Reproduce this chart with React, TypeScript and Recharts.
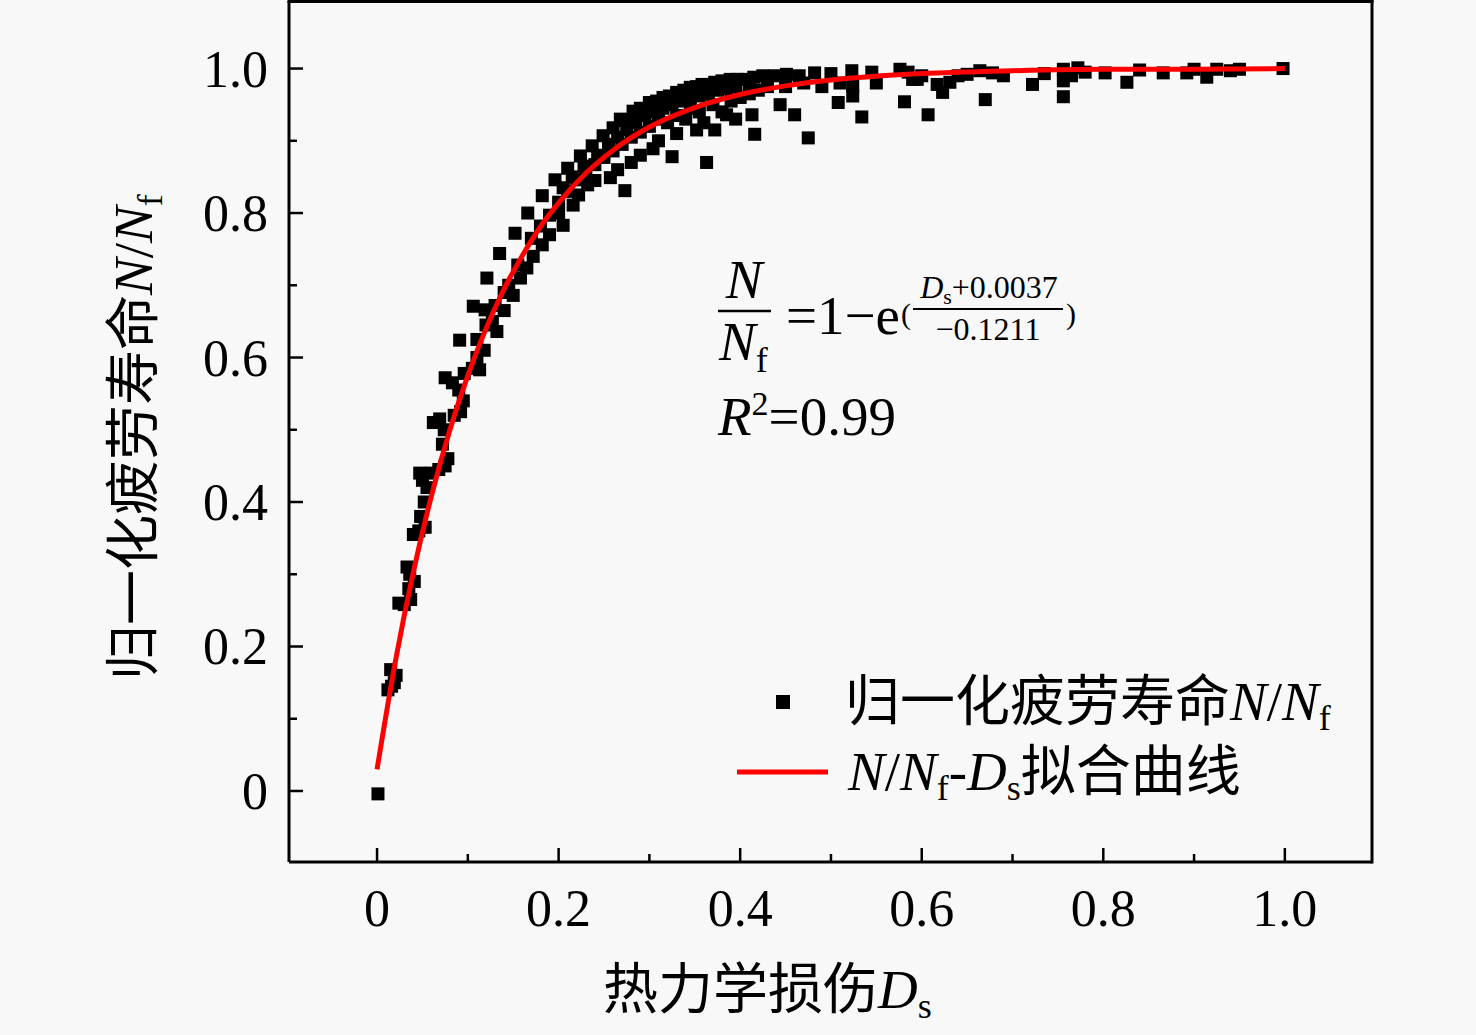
import { ComposedChart, Scatter, Line, XAxis, YAxis, Legend } from "recharts"

// 热力学损伤 Ds 与归一化疲劳寿命 N/Nf 的散点，按区段分开
const riseDs = [0.001, 0.012, 0.016, 0.019, 0.021, 0.015, 0.024, 0.030, 0.037, 0.035, 0.036, 0.041, 0.033, 0.040, 0.046, 0.053, 0.048, 0.052, 0.055, 0.050, 0.047, 0.060, 0.068, 0.075, 0.078, 0.072, 0.074, 0.062, 0.069, 0.085, 0.092, 0.095, 0.090, 0.083, 0.075, 0.096]
const riseN = [-0.004, 0.14, 0.145, 0.15, 0.16, 0.168, 0.26, 0.258, 0.265, 0.28, 0.30, 0.29, 0.31, 0.355, 0.36, 0.365, 0.38, 0.40, 0.42, 0.43, 0.44, 0.44, 0.445, 0.45, 0.46, 0.48, 0.50, 0.51, 0.515, 0.52, 0.525, 0.54, 0.555, 0.565, 0.572, 0.578]

const kneeDs = [0.091, 0.106, 0.121, 0.135, 0.152, 0.166, 0.182, 0.196, 0.210, 0.224, 0.237, 0.249, 0.260, 0.273,
    0.105, 0.113, 0.110, 0.118, 0.132, 0.127, 0.140, 0.150, 0.145, 0.158, 0.165, 0.172, 0.182, 0.190, 0.205, 0.200, 0.216, 0.222, 0.232, 0.240, 0.257, 0.265, 0.273, 0.280, 0.290,
    0.110, 0.120, 0.130, 0.140, 0.155, 0.170, 0.180, 0.190, 0.200, 0.210, 0.220, 0.230, 0.240, 0.250, 0.260, 0.270, 0.280, 0.290, 0.119,
    0.205, 0.215, 0.228, 0.243, 0.255, 0.265, 0.275]
const kneeN = [0.624, 0.671, 0.710, 0.744, 0.772, 0.800, 0.824, 0.846, 0.862, 0.879, 0.893, 0.907, 0.918, 0.928,
    0.585, 0.583, 0.600, 0.610, 0.636, 0.650, 0.665, 0.686, 0.700, 0.710, 0.724, 0.740, 0.756, 0.770, 0.783, 0.800, 0.811, 0.825, 0.839, 0.845, 0.849, 0.860, 0.831, 0.870, 0.880,
    0.625, 0.645, 0.672, 0.690, 0.728, 0.765, 0.782, 0.797, 0.815, 0.830, 0.846, 0.856, 0.867, 0.877, 0.886, 0.895, 0.905, 0.912, 0.666,
    0.835, 0.850, 0.865, 0.880, 0.895, 0.905, 0.915]

const plateauDs = [0.268, 0.282, 0.290, 0.300, 0.308, 0.315, 0.322, 0.330, 0.338, 0.345, 0.352, 0.358, 0.365, 0.372, 0.380, 0.389, 0.397, 0.405, 0.415, 0.425, 0.438, 0.451, 0.465, 0.482, 0.500, 0.523, 0.545, 0.576, 0.585,
    0.300, 0.310, 0.320, 0.330, 0.340, 0.345, 0.355, 0.360, 0.370, 0.380, 0.385, 0.390, 0.400, 0.410, 0.413, 0.420, 0.430, 0.444, 0.450, 0.460, 0.470, 0.475, 0.490, 0.508, 0.510, 0.524, 0.524, 0.534, 0.550, 0.581, 0.590,
    0.304, 0.325, 0.352, 0.363, 0.372, 0.416, 0.395, 0.330, 0.310,
    0.285, 0.295, 0.305, 0.315, 0.325, 0.335, 0.345, 0.355, 0.365, 0.375, 0.385, 0.395, 0.410, 0.430]
const plateauN = [0.930, 0.941, 0.945, 0.953, 0.955, 0.960, 0.962, 0.967, 0.970, 0.974, 0.975, 0.978, 0.978, 0.981, 0.983, 0.985, 0.985, 0.985, 0.988, 0.990, 0.990, 0.992, 0.990, 0.994, 0.993, 0.997, 0.995, 0.999, 0.995,
    0.920, 0.930, 0.925, 0.935, 0.930, 0.945, 0.940, 0.925, 0.950, 0.940, 0.936, 0.955, 0.960, 0.965, 0.936, 0.970, 0.975, 0.950, 0.975, 0.936, 0.980, 0.904, 0.975, 0.953, 0.980, 0.962, 0.976, 0.933, 0.980, 0.954, 0.985,
    0.889, 0.878, 0.915, 0.870, 0.915, 0.909, 0.930, 0.910, 0.900,
    0.925, 0.935, 0.940, 0.945, 0.950, 0.955, 0.960, 0.962, 0.965, 0.970, 0.972, 0.975, 0.978, 0.982]

const tailDs = [0.595, 0.600, 0.607, 0.617, 0.623, 0.631, 0.640, 0.650, 0.664, 0.670, 0.678, 0.690, 0.722, 0.735, 0.756, 0.756, 0.756, 0.765, 0.772, 0.780, 0.802, 0.826, 0.840, 0.866, 0.892, 0.900, 0.914, 0.925, 0.940, 0.950, 0.998]
const tailN = [0.985, 0.990, 0.936, 0.978, 0.967, 0.981, 0.990, 0.992, 0.997, 0.957, 0.994, 0.990, 0.978, 0.993, 0.999, 0.983, 0.961, 0.990, 1.001, 0.995, 0.994, 0.981, 0.998, 0.994, 0.994, 0.999, 0.988, 0.999, 0.997, 0.999, 1.000]

// 拟合曲线读数
const fitDs = [0, 0.02, 0.04, 0.06, 0.08, 0.1, 0.12, 0.14, 0.16, 0.18, 0.2, 0.23, 0.26, 0.3, 0.35, 0.4, 0.45, 0.5, 0.6, 0.7, 0.8, 0.9, 1.0]
const fitN = [0.030, 0.178, 0.303, 0.409, 0.499, 0.575, 0.640, 0.695, 0.741, 0.781, 0.814, 0.855, 0.887, 0.919, 0.946, 0.964, 0.976, 0.984, 0.993, 0.997, 0.999, 0.999, 1.0]

const xTicks = [0, 0.1, 0.2, 0.3, 0.4, 0.5, 0.6, 0.7, 0.8, 0.9, 1.0]
const yTicks = [0, 0.1, 0.2, 0.3, 0.4, 0.5, 0.6, 0.7, 0.8, 0.9, 1.0]
const xDomain = [-0.097, 1.096]
const yDomain = [-0.0983, 1.0935]

const zip = (xs: number[], ys: number[]) => xs.map((x, i) => ({ x, y: ys[i] }))
const points = [...zip(riseDs, riseN), ...zip(kneeDs, kneeN), ...zip(plateauDs, plateauN), ...zip(tailDs, tailN)]
const fitLine = zip(fitDs, fitN)

const font = '"Liberation Serif", "Times New Roman", "Noto Sans CJK SC", serif'
const isMajor = (v: number) => Math.round(v * 10) % 2 === 0
const fmt = (v: number) => (v === 0 ? "0" : v.toFixed(1))

const XTick = (props: any) => {
    const { x, y, payload } = props
    const major = isMajor(payload.value)
    return (
        <g>
            <line x1={x} x2={x} y1={y} y2={y - (major ? 14 : 8)} stroke="#000" strokeWidth={2.5} />
            {major && (
                <text x={x} y={y + 64} textAnchor="middle" fontSize={52} fontFamily={font} fill="#000">
                    {fmt(payload.value)}
                </text>
            )}
        </g>
    )
}

const YTick = (props: any) => {
    const { x, y, payload } = props
    const major = isMajor(payload.value)
    return (
        <g>
            <line x1={x} x2={x + (major ? 14 : 8)} y1={y} y2={y} stroke="#000" strokeWidth={2.5} />
            {major && (
                <text x={x - 21} y={y + 18} textAnchor="end" fontSize={52} fontFamily={font} fill="#000">
                    {fmt(payload.value)}
                </text>
            )}
        </g>
    )
}

const Square = (props: any) => {
    const { cx, cy } = props
    return <rect x={cx - 6.5} y={cy - 6.5} width={13} height={13} fill="#000" />
}

const renderLegend = () => (
    <svg width={660} height={160} style={{ display: "block" }}>
        <rect x={56} y={35} width={14} height={14} fill="#000" />
        <text x={125} y={60} fontSize={55} fontFamily={font} fill="#000">
            归一化疲劳寿命<tspan fontStyle="italic">N</tspan>/<tspan fontStyle="italic">N</tspan>
            <tspan fontSize={36} dy={10}>f</tspan>
        </text>
        <line x1={17} x2={108} y1={112} y2={112} stroke="#ff0000" strokeWidth={5} />
        <text x={128} y={130} fontSize={55} fontFamily={font} fill="#000">
            <tspan fontStyle="italic">N</tspan>/<tspan fontStyle="italic">N</tspan>
            <tspan fontSize={36} dy={10}>f</tspan>
            <tspan dy={-10}>-</tspan>
            <tspan fontStyle="italic">D</tspan>
            <tspan fontSize={36} dy={10}>s</tspan>
            <tspan dy={-10}>拟合曲线</tspan>
        </text>
    </svg>
)

export default function App() {
    const axisLine = { stroke: "#000", strokeWidth: 3 }
    return (
        <div style={{ position: "absolute", left: 0, top: 0, width: 1476, height: 1035, background: "#f8f8f8", fontFamily: font }}>
            <ComposedChart width={1476} height={1035} margin={{ top: 1, right: 104, bottom: 73, left: 89 }}>
                <XAxis type="number" dataKey="x" domain={xDomain} ticks={xTicks} interval={0} allowDataOverflow
                    height={100} tickSize={0} tickMargin={0} tickLine={false} axisLine={axisLine} tick={<XTick />} />
                <YAxis type="number" dataKey="y" domain={yDomain} ticks={yTicks} interval={0} allowDataOverflow
                    width={200} tickSize={0} tickMargin={0} tickLine={false} axisLine={axisLine} tick={<YTick />} />
                <Legend layout="vertical" align="center" verticalAlign="middle" content={renderLegend}
                    wrapperStyle={{ left: 720, top: 660, width: 660, height: 160 }} />
                <Scatter name="归一化疲劳寿命N/Nf" data={points} shape={<Square />} isAnimationActive={false} zIndex={400} />
                {/* 拟合线画在散点上面 */}
                <Line name="N/Nf-Ds拟合曲线" data={fitLine} dataKey="y" type="monotone" dot={false}
                    stroke="#ff0000" strokeWidth={5} isAnimationActive={false} zIndex={900} />
            </ComposedChart>
            <svg width={1476} height={1035} style={{ position: "absolute", left: 0, top: 0, pointerEvents: "none" }}
                fontFamily={font} fill="#000">
                {/* 图框上边与右边 */}
                <line x1={287.5} x2={1373.5} y1={1.5} y2={1.5} stroke="#000" strokeWidth={3} />
                <line x1={1372} x2={1372} y1={0} y2={863.5} stroke="#000" strokeWidth={3} />
                {/* 轴标题 */}
                <text x={603} y={1008} fontSize={55}>
                    热力学损伤<tspan fontStyle="italic">D</tspan>
                    <tspan fontSize={36} dy={10}>s</tspan>
                </text>
                <text transform="translate(152, 680) rotate(-90)" fontSize={55}>
                    归一化疲劳寿命<tspan fontStyle="italic">N</tspan>/<tspan fontStyle="italic">N</tspan>
                    <tspan fontSize={36} dy={10}>f</tspan>
                </text>
                {/* 拟合公式 */}
                <text x={744} y={298} fontSize={55} fontStyle="italic" textAnchor="middle">N</text>
                <line x1={718} x2={771} y1={311} y2={311} stroke="#000" strokeWidth={2.5} />
                <text x={719} y={360} fontSize={55}>
                    <tspan fontStyle="italic">N</tspan>
                    <tspan fontSize={36} dy={12}>f</tspan>
                </text>
                <text x={786} y={334} fontSize={55}>=1−e</text>
                <text x={901} y={324} fontSize={30}>(</text>
                <text x={989} y={298} fontSize={32} textAnchor="middle">
                    <tspan fontStyle="italic">D</tspan>
                    <tspan fontSize={22} dy={6}>s</tspan>
                    <tspan dy={-6}>+0.0037</tspan>
                </text>
                <line x1={913} x2={1063} y1={309} y2={309} stroke="#000" strokeWidth={1.8} />
                <text x={988} y={340} fontSize={32} textAnchor="middle">−0.1211</text>
                <text x={1066} y={324} fontSize={30}>)</text>
                <text x={718} y={435} fontSize={55}>
                    <tspan fontStyle="italic">R</tspan>
                    <tspan fontSize={34} dy={-20}>2</tspan>
                    <tspan dy={20}>=0.99</tspan>
                </text>
            </svg>
        </div>
    )
}
